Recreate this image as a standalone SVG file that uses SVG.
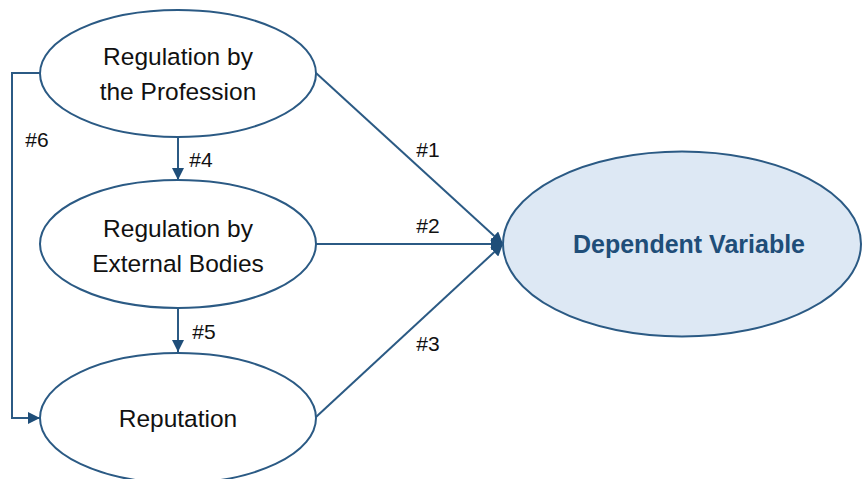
<svg xmlns="http://www.w3.org/2000/svg" width="862" height="479" viewBox="0 0 862 479">
<style>
.node{fill:#ffffff;stroke:#2b5a84;stroke-width:2}
.dv{fill:#dde8f4;stroke:#2b5a84;stroke-width:2}
.t{font-family:"Liberation Sans",Arial,sans-serif;font-size:24.5px;fill:#111;text-anchor:middle}
.dvt{font-family:"Liberation Sans",Arial,sans-serif;font-size:25px;font-weight:bold;fill:#1f4e79;text-anchor:middle}
.lbl{font-family:"Liberation Sans",Arial,sans-serif;font-size:21px;fill:#111;text-anchor:middle}
.c{fill:none;stroke:#2b5a84;stroke-width:2}
</style>
<defs>
<marker id="ah" viewBox="0 0 12 12" refX="12" refY="6" markerWidth="12" markerHeight="12" markerUnits="userSpaceOnUse" orient="auto">
<path d="M0,0 L12,6 L0,12 Z" fill="#1f4e79"/>
</marker>
</defs>
<rect width="862" height="479" fill="#ffffff"/>
<g id="connectors">
<path class="c" d="M178,137 V180" marker-end="url(#ah)"/>
<path class="c" d="M178,308 V352" marker-end="url(#ah)"/>
<path class="c" d="M40,73 H12 V418 H40" marker-end="url(#ah)"/>
<path class="c" d="M316,73 L503,244" marker-end="url(#ah)"/>
<path class="c" d="M316,244 L503,244" marker-end="url(#ah)"/>
<path class="c" d="M316,417 L503,244" marker-end="url(#ah)"/>
<text class="lbl" x="428" y="157">#1</text>
<text class="lbl" x="428" y="233">#2</text>
<text class="lbl" x="428" y="351">#3</text>
<text class="lbl" x="201" y="167">#4</text>
<text class="lbl" x="204" y="339">#5</text>
<text class="lbl" x="37" y="147">#6</text>
</g>
<g id="regulation-profession">
<ellipse class="node" cx="178" cy="73.5" rx="138" ry="63.5"/>
<text class="t" x="178" y="65">Regulation by</text>
<text class="t" x="178" y="100">the Profession</text>
</g>
<g id="regulation-external">
<ellipse class="node" cx="178" cy="244" rx="138" ry="64"/>
<text class="t" x="178" y="237">Regulation by</text>
<text class="t" x="178" y="272">External Bodies</text>
</g>
<g id="reputation">
<ellipse class="node" cx="178" cy="418" rx="138" ry="65"/>
<text class="t" x="178" y="427">Reputation</text>
</g>
<g id="dependent-variable">
<ellipse class="dv" cx="682" cy="244" rx="179" ry="92.5"/>
<text class="dvt" x="689" y="253">Dependent Variable</text>
</g>
</svg>
